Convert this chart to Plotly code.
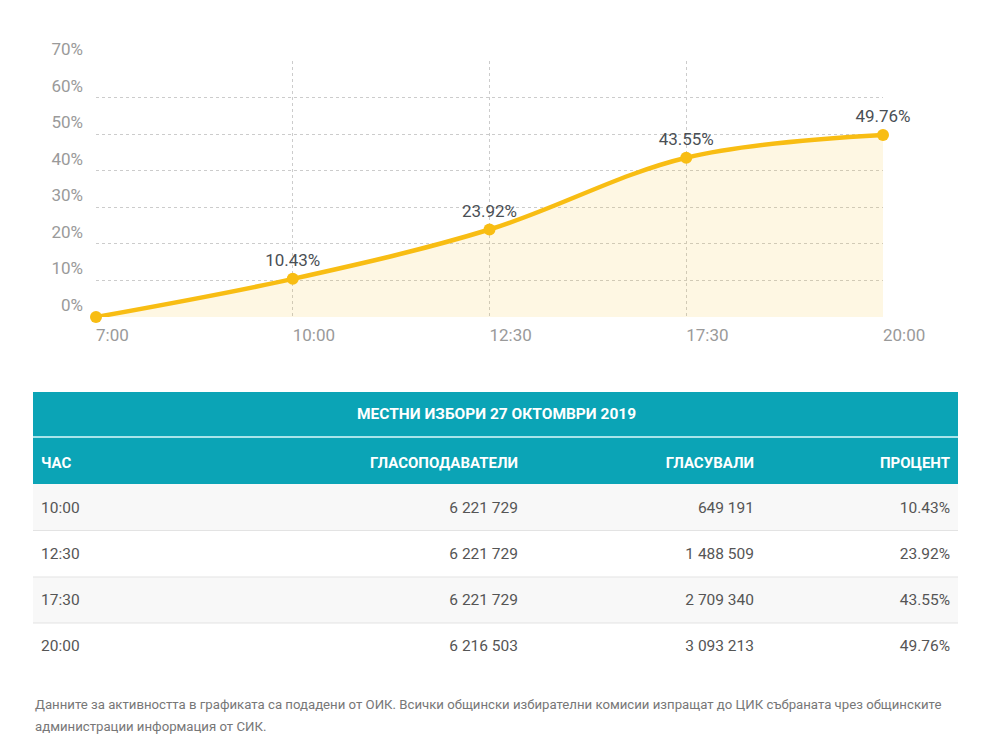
import plotly.graph_objects as go

# chart data
hours = ["7:00", "10:00", "12:30", "17:30", "20:00"]
turnout = [0, 10.43, 23.92, 43.55, 49.76]
turnout_labels = ["", "10.43%", "23.92%", "43.55%", "49.76%"]
y_ticks = [0, 10, 20, 30, 40, 50, 60, 70]

# table data
table_title = "МЕСТНИ ИЗБОРИ 27 ОКТОМВРИ 2019"
col_names = ["ЧАС", "ГЛАСОПОДАВАТЕЛИ", "ГЛАСУВАЛИ", "ПРОЦЕНТ"]
row_hours = ["10:00", "12:30", "17:30", "20:00"]
voters = ["6 221 729", "6 221 729", "6 221 729", "6 216 503"]
voted = ["649 191", "1 488 509", "2 709 340", "3 093 213"]
percent = ["10.43%", "23.92%", "43.55%", "49.76%"]

note_1 = ("Данните за активността в графиката са подадени от ОИК. Всички общински избирателни "
          "комисии изпращат до ЦИК събраната чрез общинските")
note_2 = "администрации информация от СИК."

W, H = 995, 748
FONT = "Roboto"
TEAL = "#0ba4b6"
YELLOW = "#f8bd13"


def px_x(x):
    return x / W


def px_y(y):
    return 1 - y / H


fig = go.Figure()

fig.add_trace(go.Scatter(
    x=hours, y=turnout,
    mode="lines+markers+text",
    line=dict(color=YELLOW, width=4.5, shape="spline", smoothing=1),
    marker=dict(color=YELLOW, size=12),
    fill="tozeroy", fillcolor="rgba(249,196,40,0.13)",
    text=turnout_labels, textposition="top center",
    textfont=dict(family=FONT, size=17, color="#4a4f55"),
    cliponaxis=False, hoverinfo="skip",
))

# table text only; the backgrounds are drawn as shapes so the text can sit centred in each row
fig.add_trace(go.Table(
    domain=dict(x=[px_x(33), px_x(958)], y=[px_y(679), px_y(446)]),
    columnwidth=[250, 243, 236, 196],
    header=dict(
        values=["<b>%s</b>" % c for c in col_names],
        fill_color="rgba(0,0,0,0)", line_color="rgba(0,0,0,0)",
        align=["left", "right", "right", "right"],
        font=dict(family=FONT, size=15, color="white"),
        height=47,
    ),
    cells=dict(
        values=[row_hours, voters, voted, percent],
        fill_color="rgba(0,0,0,0)", line_color="rgba(0,0,0,0)",
        align=["left", "right", "right", "right"],
        font=dict(family=FONT, size=15.5, color="#555555"),
        height=46,
    ),
))


def band(y0, y1, color):
    return dict(type="rect", xref="paper", yref="paper", x0=px_x(33), x1=px_x(958),
                y0=px_y(y1), y1=px_y(y0), fillcolor=color, line_width=0, layer="below")


def hline(y, color, width):
    return dict(type="line", xref="paper", yref="paper", x0=px_x(33), x1=px_x(958),
                y0=px_y(y), y1=px_y(y), line=dict(color=color, width=width), layer="below")


shapes = [
    band(392, 484, TEAL),
    hline(437, "#a8e4ea", 2),
    band(484, 530, "#f8f8f8"),
    band(577, 623, "#f8f8f8"),
]
for y in [530.5, 577, 623]:
    shapes.append(hline(y, "#e3e3e3", 1))

annotations = [
    dict(text="<b>%s</b>" % table_title, xref="paper", yref="paper",
         x=px_x(496), y=px_y(414), showarrow=False,
         font=dict(family=FONT, size=15.5, color="white")),
    dict(text=note_1, xref="paper", yref="paper", x=px_x(33), y=px_y(704),
         xanchor="left", yanchor="middle", showarrow=False,
         font=dict(family=FONT, size=13.2, color="#777777")),
    dict(text=note_2, xref="paper", yref="paper", x=px_x(33), y=px_y(726),
         xanchor="left", yanchor="middle", showarrow=False,
         font=dict(family=FONT, size=13.2, color="#777777")),
]

fig.update_layout(
    width=W, height=H,
    margin=dict(l=0, r=0, t=0, b=0, autoexpand=False),
    paper_bgcolor="white", plot_bgcolor="white",
    showlegend=False,
    shapes=shapes, annotations=annotations,
    xaxis=dict(
        domain=[px_x(96), px_x(883)], type="category", range=[0, 4],
        showgrid=True, gridcolor="#cccccc", griddash="dot", gridwidth=1,
        zeroline=False, showline=False, ticks="", automargin=False,
        ticklabelposition="outside right", ticklabelstandoff=6,
        tickfont=dict(family=FONT, size=17, color="#9a9a9a"),
        fixedrange=True,
    ),
    yaxis=dict(
        domain=[px_y(317), px_y(61)], range=[0, 70],
        tickvals=y_ticks, ticktext=["%d%%" % v for v in y_ticks],
        showgrid=True, gridcolor="#cccccc", griddash="dot", gridwidth=1,
        zeroline=False, showline=False, ticks="", automargin=False,
        ticklabelposition="outside top", ticklabelstandoff=12,
        tickfont=dict(family=FONT, size=17, color="#9a9a9a"),
        fixedrange=True,
    ),
)

fig.write_html("out.html", config={"displayModeBar": False},
               post_script="document.body.style.margin='0';document.body.style.overflow='hidden';")
